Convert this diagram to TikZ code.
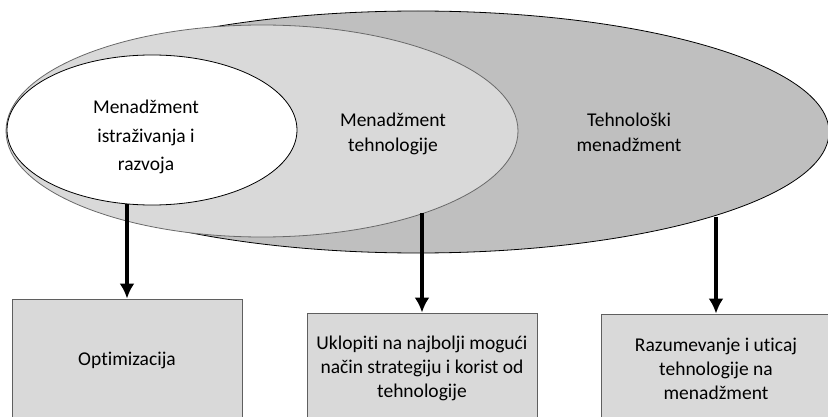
\documentclass[tikz,border=0pt]{standalone}
\usepackage{fontspec}
\setmainfont{Carlito}[Ligatures=NoCommon]
\usetikzlibrary{arrows.meta, shapes.geometric, positioning}

\definecolor{darkzone}{RGB}{191,191,191}
\definecolor{lightzone}{RGB}{217,217,217}
\definecolor{zoneline}{RGB}{105,105,105}
\definecolor{boxline}{RGB}{95,95,95}

\begin{document}
\begin{tikzpicture}[x=1pt, y=-1pt,
    zone/.style={ellipse, inner sep=0pt, line width=0.8pt},
    zonetext/.style={align=center, inner sep=0pt, font=\fontsize{19.5pt}{25pt}\selectfont},
    goal/.style={rectangle, draw=boxline, fill=lightzone, line width=0.9pt, minimum width=230pt, align=center, font=\fontsize{19.5pt}{24pt}\selectfont},
    flow/.style={-{Latex[length=15pt,width=15pt]}, line width=3.2pt}]
    \useasboundingbox (0,0) rectangle (828,417);

    % nested fields
    \node[zone, draw=black, fill=darkzone, minimum width=822pt, minimum height=242pt] (tm) at (418,132) {};
    \node[zone, draw=zoneline, fill=lightzone, minimum width=512pt, minimum height=212pt] (mt) at (262,131) {};
    \node[zone, draw=black, fill=white, minimum width=290pt, minimum height=150pt] (rd) at (152,130) {};

    \node[zonetext, font=\fontsize{19.5pt}{28.5pt}\selectfont] (rdtext) at (146,137) {Menadžment\\istraživanja i\\razvoja};
    \node[zonetext] (mttext) at (393,133.5) {Menadžment\\tehnologije};
    \node[zonetext] (tmtext) at (629,132.5) {Tehnološki\\menadžment};

    % outcomes
    \node[goal, minimum height=122pt] (opt) at (127,360) {Optimizacija};
    \node[goal, minimum height=110pt] (fit) at (422,368) {Uklopiti na najbolji mogući\\način strategiju i korist od\\tehnologije};
    \node[goal, minimum height=110pt] (und) at (716,369) {Razumevanje i uticaj\\tehnologije na\\menadžment};

    \draw[flow] (opt.north |- rd.251) -- (opt.north);
    \draw[flow] (fit.north |- mt.333) -- (fit.north);
    \draw[flow] (und.north |- tm.344.7) -- (und.north);
\end{tikzpicture}
\end{document}
